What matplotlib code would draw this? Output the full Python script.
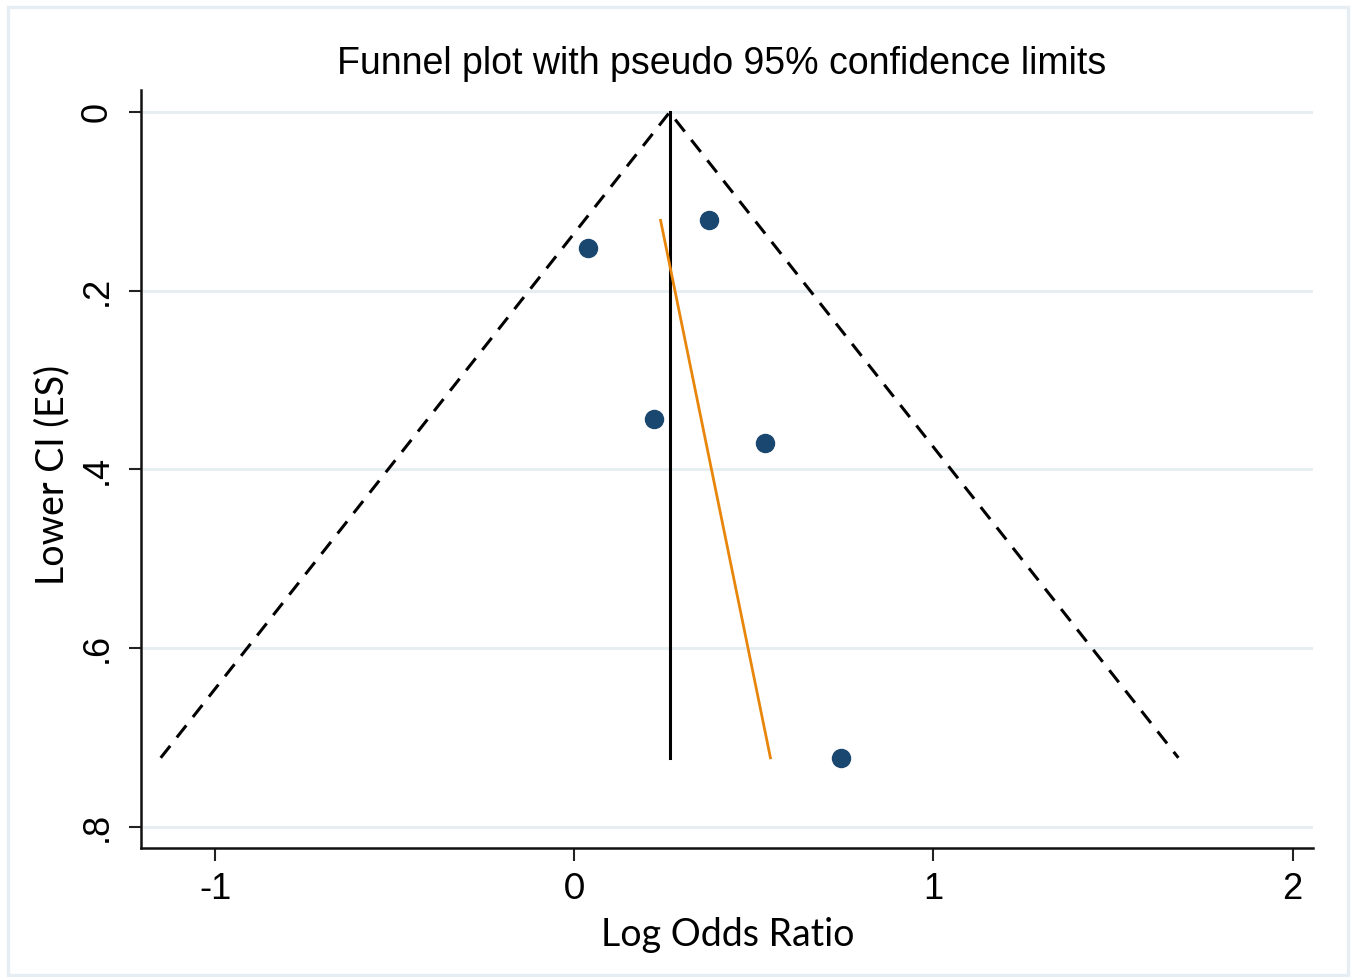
import matplotlib.pyplot as plt
from matplotlib.patches import Rectangle

# study estimates (log odds ratio) and their lower CI
study_x = [0.039, 0.374, 0.223, 0.530, 0.742]
study_y = [0.152, 0.121, 0.343, 0.370, 0.723]

# pooled estimate and funnel depth
pooled = 0.265
max_se = 0.723

# fitted line (Egger style)
fit_x = [0.240, 0.546]
fit_y = [0.121, 0.723]

xticks = [-1, 0, 1, 2]
xtick_labels = ['-1', '0', '1', '2']
yticks = [0, 0.2, 0.4, 0.6, 0.8]
ytick_labels = ['0', '.2', '.4', '.6', '.8']

navy = '#1a476f'
orange = '#e8860c'
grid_c = '#e6eef2'

plt.rcParams['font.family'] = ['Liberation Sans', 'DejaVu Sans']

fig = plt.figure(figsize=(13.55, 9.77), dpi=100)
ax = fig.add_axes([141 / 1355, 1 - 848 / 977, (1313 - 141) / 1355, (848 - 90) / 977])

# funnel limits
ax.plot([pooled - 1.96 * max_se, pooled, pooled + 1.96 * max_se], [max_se, 0, max_se],
        color='k', lw=2.2, dashes=(5, 3.5), zorder=3)
ax.plot([pooled, pooled], [0, max_se], color='k', lw=2.2, zorder=3)
ax.plot(fit_x, fit_y, color=orange, lw=2.0, zorder=3)
ax.plot(study_x, study_y, 'o', color=navy, ms=13, zorder=4)

ax.set_xlim(-1.207, 2.057)
ax.set_ylim(0.824, -0.025)

ax.set_xticks(xticks)
ax.set_xticklabels(xtick_labels, fontsize=26)
ax.set_yticks(yticks)
ax.set_yticklabels(ytick_labels, fontsize=26, rotation=90, va='center')
ax.tick_params(axis='both', direction='out', length=9, width=1.5, color='#222222')
ax.tick_params(axis='x', pad=8)
ax.tick_params(axis='y', pad=10)
for lab in ax.get_xticklabels():
    if lab.get_text() == '0':
        lab.set_family('Lato')

ax.grid(axis='y', color=grid_c, lw=2)
ax.set_axisbelow(True)
for s in ['top', 'right']:
    ax.spines[s].set_visible(False)
for s in ['left', 'bottom']:
    ax.spines[s].set_linewidth(1.8)
    ax.spines[s].set_color('#111111')

fig.text(722 / 1355, 1 - 64 / 977, 'Funnel plot with pseudo 95% confidence limits',
         ha='center', va='center', fontsize=27)
fig.text(728 / 1355, 1 - 935 / 977, 'Log Odds Ratio', ha='center', va='center',
         fontsize=27, family='Lato')
fig.text(52 / 1355, 1 - 475 / 977, 'Lower CI (ES)', ha='center', va='center',
         fontsize=27, family='Lato', rotation=90)

fig.patches.append(Rectangle((8 / 1355, 1 - 975 / 977), 1340 / 1355, 968 / 977,
                             transform=fig.transFigure, fill=False,
                             edgecolor='#e6eef3', lw=2.5))

fig.savefig('out.png', dpi=100)
